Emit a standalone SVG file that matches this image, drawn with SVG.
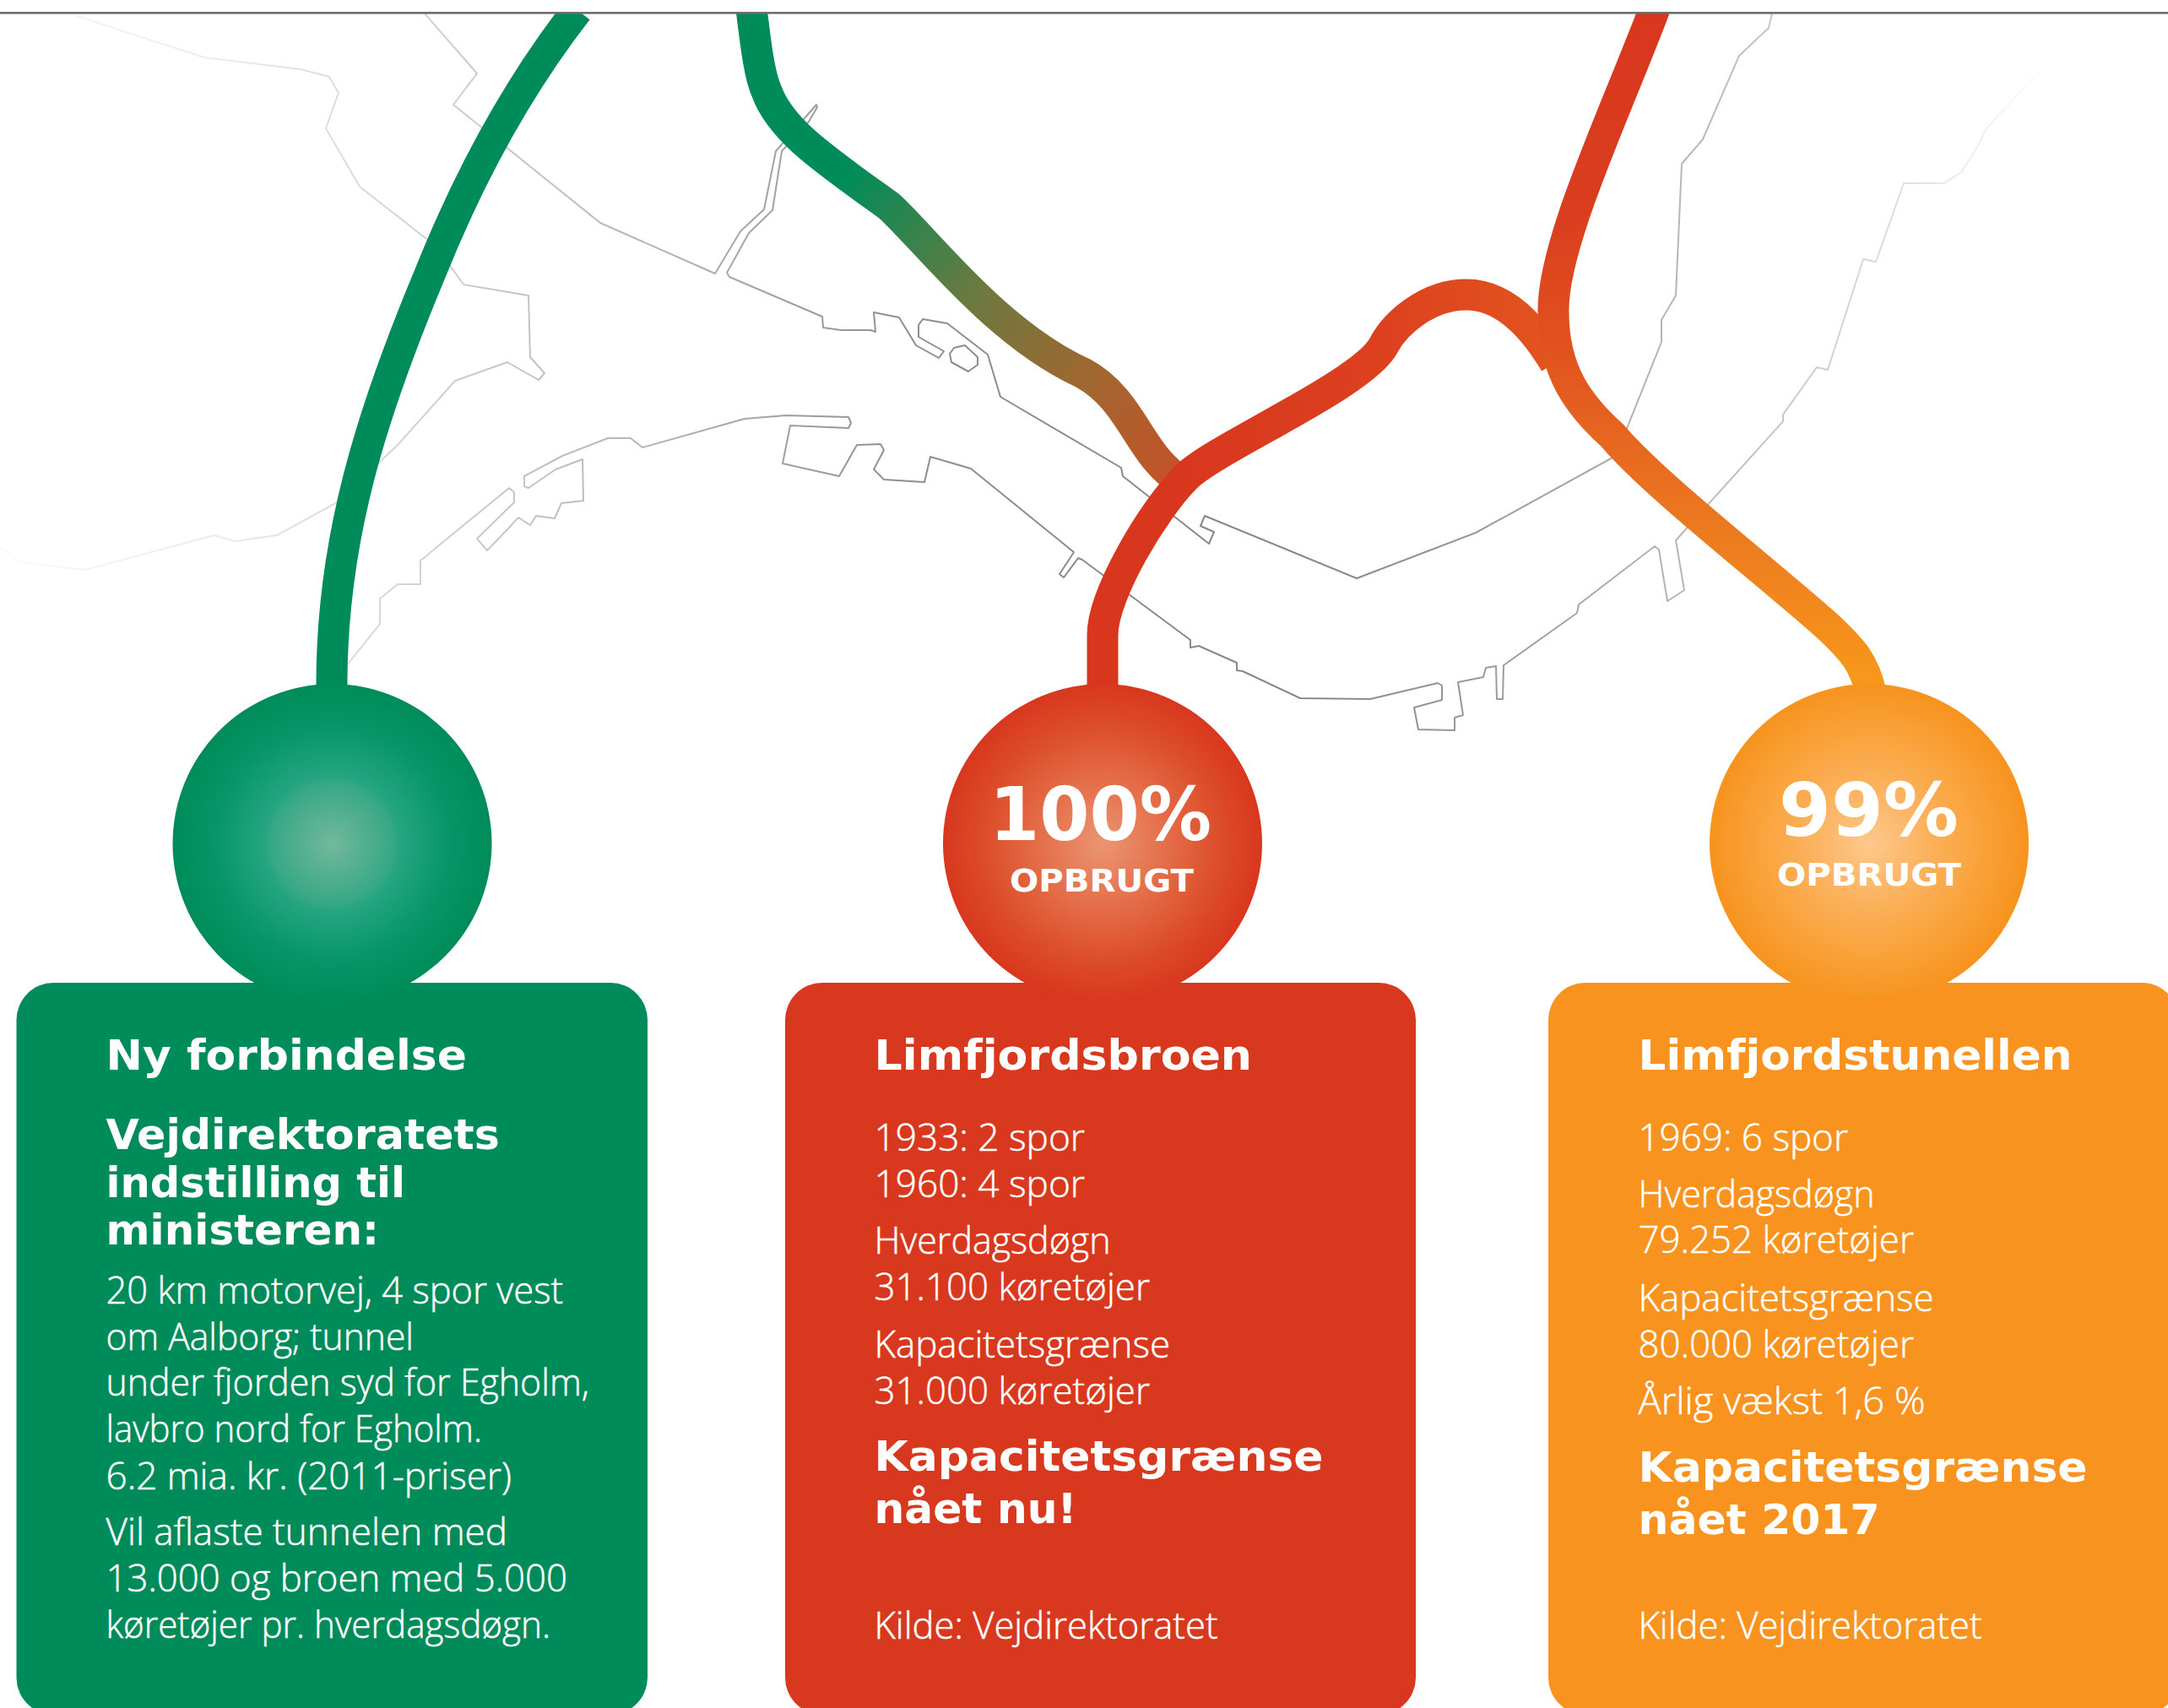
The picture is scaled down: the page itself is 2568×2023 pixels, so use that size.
<svg xmlns="http://www.w3.org/2000/svg" width="2568" height="2023" viewBox="0 0 2568 2023">
<style>
.map{fill:none;stroke:url(#mapFade);stroke-width:2;stroke-linejoin:round}
.road{fill:none;stroke-width:37;stroke-linecap:butt}
.h{font-family:"DejaVu Sans",sans-serif;font-weight:700;font-size:50px;fill:#fff}
.b{font-family:"Open Sans","Noto Sans",sans-serif;font-weight:300;font-size:44px;fill:#fff;stroke:#fff;stroke-width:.5}
.pct{font-family:"DejaVu Sans",sans-serif;font-weight:700;font-size:88px;fill:#fff}
.op{font-family:"DejaVu Sans",sans-serif;font-weight:700;font-size:37px;fill:#fff}
</style>
<defs>
<linearGradient id="mapFade" gradientUnits="userSpaceOnUse" x1="0" y1="0" x2="2568" y2="0">
<stop offset="0" stop-color="#fafafa"/><stop offset="0.1" stop-color="#ececec"/><stop offset="0.2" stop-color="#d0d0d0"/><stop offset="0.3" stop-color="#b4b4b4"/><stop offset="0.42" stop-color="#8e8e8e"/><stop offset="0.6" stop-color="#868686"/><stop offset="0.72" stop-color="#a4a4a4"/><stop offset="0.82" stop-color="#c6c6c6"/><stop offset="0.89" stop-color="#e4e4e4"/><stop offset="0.945" stop-color="#ffffff"/>
</linearGradient>
<linearGradient id="gBrown" gradientUnits="userSpaceOnUse" x1="1000" y1="210" x2="1395" y2="565">
<stop offset="0" stop-color="#008c5a"/><stop offset="0.38" stop-color="#687a40"/><stop offset="0.72" stop-color="#a3662f"/><stop offset="1" stop-color="#c4522a"/>
</linearGradient>
<linearGradient id="gArc" gradientUnits="userSpaceOnUse" x1="1400" y1="0" x2="1840" y2="0">
<stop offset="0" stop-color="#d8371e"/><stop offset="0.55" stop-color="#dc411f"/><stop offset="1" stop-color="#e2551f"/>
</linearGradient>
<linearGradient id="gOrange" gradientUnits="userSpaceOnUse" x1="0" y1="15" x2="0" y2="810">
<stop offset="0" stop-color="#d8371e"/><stop offset="0.3" stop-color="#da3e1e"/><stop offset="0.5" stop-color="#e1521f"/><stop offset="0.75" stop-color="#eb7720"/><stop offset="1" stop-color="#f7981a"/>
</linearGradient>
<radialGradient id="cGreen"><stop offset="0" stop-color="#73b89e"/><stop offset="0.38" stop-color="#37a884"/><stop offset="0.42" stop-color="#26a580"/><stop offset="0.75" stop-color="#059567"/><stop offset="1" stop-color="#008c5a"/></radialGradient>
<radialGradient id="cRed"><stop offset="0" stop-color="#eb9573"/><stop offset="0.4" stop-color="#e46e49"/><stop offset="0.75" stop-color="#dc4c28"/><stop offset="1" stop-color="#d8371e"/></radialGradient>
<radialGradient id="cOrange"><stop offset="0" stop-color="#fdc88c"/><stop offset="0.4" stop-color="#fbb059"/><stop offset="0.75" stop-color="#f9a035"/><stop offset="1" stop-color="#f7931e"/></radialGradient>
<clipPath id="below"><rect x="0" y="15" width="2568" height="2008"/></clipPath>
</defs>
<rect width="2568" height="2023" fill="#fff"/>
<g id="map">
<path class="map" d="M91 19L242 68L356 82L390 91L401 110L386 152L426 221L509 286L537 320L549 337L626 350L628 423L645 442L638 450L601 429L539 451L471 527L452 545L403 593L328 634L278 641L254 634L100 675L22 665L0 648"/>
<path class="map" d="M503 16L565 87L537 124L711 264L847 324L877 274L905 248L919 179L967 124L968 127L958 144L926 179L915 249L887 276L861 323L864 328L974 375L975 388L996 391L1031 391L1037 393L1035 370L1065 376L1085 409L1112 424L1118 416L1088 399L1088 385L1093 378L1122 383L1170 420L1185 470L1328 554L1330 564L1432 644L1438 630L1422 623L1427 611L1607 685L1748 631L1910 542L1928 505L1968 405L1968 379L1985 350L1992 194L2017 165L2060 66L2095 33L2099 16"/>
<path class="map" d="M1125 419L1130 412L1143 409L1158 423L1158 432L1147 440L1127 429Z"/>
<path class="map" d="M410 789L450 739L450 709L471 692L498 692L498 664L603 578L609 583L609 595L565 638L577 652L602 626L614 613L628 622L635 611L657 614L665 596L691 593L690 544L658 556L626 578L621 576L621 564L666 540L720 519L747 519L761 530L882 496L931 492L1005 494L1008 501L1005 507L936 504L927 549L994 564L1015 527L1043 526L1047 533L1035 556L1047 568L1095 571L1102 541L1150 555L1272 654L1255 680L1260 684L1277 661L1282 663L1410 758L1410 767L1420 765L1465 785L1465 794L1472 795L1540 827L1623 828L1703 809L1708 812L1708 829L1675 838L1680 864L1723 865L1723 850L1733 847L1727 808L1757 802L1760 791L1772 789L1773 828L1780 828L1781 788L1868 726L1870 716L1960 647L1965 651L1975 712L1995 699L1985 640L2112 499L2112 491L2152 435L2165 438L2207 307L2222 310L2255 217L2303 217L2323 204L2340 178L2353 152L2420 80L2450 52"/>
</g>
<g id="connectors" clip-path="url(#below)">
<path class="road" stroke="#008c5a" d="M393 815C392 640 440 490 509 325C545 235 600 120 684 12"/>
<path class="road" stroke="url(#gBrown)" d="M890 10C896 60 900 90 908 108C925 155 978 190 1053 244C1098 285 1180 395 1283 442C1343 475 1348 540 1402 572"/>
<path class="road" stroke="url(#gArc)" d="M1306 815L1306 752C1306 705 1365 605 1405 565C1440 530 1615 455 1639 409C1652 384 1690 349 1737 349C1780 349 1815 385 1842 430"/>
<path class="road" stroke="url(#gOrange)" d="M1960 10C1915 130 1838 290 1840 370C1840 440 1870 480 1910 516C1960 575 2090 675 2165 742C2195 770 2208 785 2216 820"/>
</g>
<rect id="rule" x="0" y="14" width="2568" height="2.6" fill="#6d6d6d"/>
<g id="node-ny">
<rect x="19.500" y="1164" width="747.500" height="867" rx="44" fill="#008c5a"/>
<circle cx="393.500" cy="999" r="189" fill="url(#cGreen)"/>
<text class="h" x="125.500" y="1267" textLength="427.500" lengthAdjust="spacingAndGlyphs">Ny forbindelse</text>
<text class="h" x="125.500" y="1361" textLength="466.500" lengthAdjust="spacingAndGlyphs">Vejdirektoratets</text>
<text class="h" x="125.500" y="1418" textLength="354.500" lengthAdjust="spacingAndGlyphs">indstilling til</text>
<text class="h" x="125.500" y="1474" textLength="323.500" lengthAdjust="spacingAndGlyphs">ministeren:</text>
<text class="b" x="125.500" y="1543.500" textLength="541.500" lengthAdjust="spacingAndGlyphs">20 km motorvej, 4 spor vest</text>
<text class="b" x="125.500" y="1598.500" textLength="364.500" lengthAdjust="spacingAndGlyphs">om Aalborg; tunnel</text>
<text class="b" x="125.500" y="1652.500" textLength="572.500" lengthAdjust="spacingAndGlyphs">under fjorden syd for Egholm,</text>
<text class="b" x="125.500" y="1707.500" textLength="445.500" lengthAdjust="spacingAndGlyphs">lavbro nord for Egholm.</text>
<text class="b" x="125.500" y="1763.500" textLength="480.500" lengthAdjust="spacingAndGlyphs">6.2 mia. kr. (2011-priser)</text>
<text class="b" x="125.500" y="1829.500" textLength="475.500" lengthAdjust="spacingAndGlyphs">Vil aflaste tunnelen med</text>
<text class="b" x="125.500" y="1884.500" textLength="546.500" lengthAdjust="spacingAndGlyphs">13.000 og broen med 5.000</text>
<text class="b" x="125.500" y="1939.500" textLength="526.500" lengthAdjust="spacingAndGlyphs">køretøjer pr. hverdagsdøgn.</text>
</g>
<g id="node-broen">
<rect x="930" y="1164" width="747" height="867" rx="44" fill="#d8381e"/>
<circle cx="1306" cy="999" r="189" fill="url(#cRed)"/>
<text class="pct" x="1172" y="995" textLength="263" lengthAdjust="spacingAndGlyphs">100%</text>
<text class="op" x="1196" y="1056" textLength="218" lengthAdjust="spacingAndGlyphs">OPBRUGT</text>
<text class="h" x="1035.500" y="1267" textLength="447.500" lengthAdjust="spacingAndGlyphs">Limfjordsbroen</text>
<text class="b" x="1035.500" y="1362.500" textLength="249.500" lengthAdjust="spacingAndGlyphs">1933: 2 spor</text>
<text class="b" x="1035.500" y="1417.500" textLength="249.500" lengthAdjust="spacingAndGlyphs">1960: 4 spor</text>
<text class="b" x="1035.500" y="1484.500" textLength="280" lengthAdjust="spacingAndGlyphs">Hverdagsdøgn</text>
<text class="b" x="1035.500" y="1539.500" textLength="326.500" lengthAdjust="spacingAndGlyphs">31.100 køretøjer</text>
<text class="b" x="1035.500" y="1607.500" textLength="350.500" lengthAdjust="spacingAndGlyphs">Kapacitetsgrænse</text>
<text class="b" x="1035.500" y="1662.500" textLength="326.500" lengthAdjust="spacingAndGlyphs">31.000 køretøjer</text>
<text class="h" x="1035.500" y="1742" textLength="532" lengthAdjust="spacingAndGlyphs">Kapacitetsgrænse</text>
<text class="h" x="1035.500" y="1804" textLength="240" lengthAdjust="spacingAndGlyphs">nået nu!</text>
<text class="b" x="1035.500" y="1941" textLength="407" lengthAdjust="spacingAndGlyphs">Kilde: Vejdirektoratet</text>
</g>
<g id="node-tunnel">
<rect x="1834" y="1164" width="747" height="867" rx="44" fill="#f7931e"/>
<circle cx="2214" cy="999" r="189" fill="url(#cOrange)"/>
<text class="pct" x="2107" y="990" textLength="213" lengthAdjust="spacingAndGlyphs">99%</text>
<text class="op" x="2105" y="1049" textLength="218" lengthAdjust="spacingAndGlyphs">OPBRUGT</text>
<text class="h" x="1940.500" y="1267" textLength="514" lengthAdjust="spacingAndGlyphs">Limfjordstunellen</text>
<text class="b" x="1940.500" y="1362.500" textLength="248.500" lengthAdjust="spacingAndGlyphs">1969: 6 spor</text>
<text class="b" x="1940.500" y="1429.500" textLength="280" lengthAdjust="spacingAndGlyphs">Hverdagsdøgn</text>
<text class="b" x="1940.500" y="1484" textLength="326.500" lengthAdjust="spacingAndGlyphs">79.252 køretøjer</text>
<text class="b" x="1940.500" y="1552.500" textLength="350" lengthAdjust="spacingAndGlyphs">Kapacitetsgrænse</text>
<text class="b" x="1940.500" y="1607.500" textLength="326.500" lengthAdjust="spacingAndGlyphs">80.000 køretøjer</text>
<text class="b" x="1940.500" y="1674.500" textLength="340" lengthAdjust="spacingAndGlyphs">Årlig vækst 1,6 %</text>
<text class="h" x="1940.500" y="1755" textLength="532" lengthAdjust="spacingAndGlyphs">Kapacitetsgrænse</text>
<text class="h" x="1940.500" y="1817" textLength="286" lengthAdjust="spacingAndGlyphs">nået 2017</text>
<text class="b" x="1940.500" y="1941" textLength="407" lengthAdjust="spacingAndGlyphs">Kilde: Vejdirektoratet</text>
</g>
</svg>
